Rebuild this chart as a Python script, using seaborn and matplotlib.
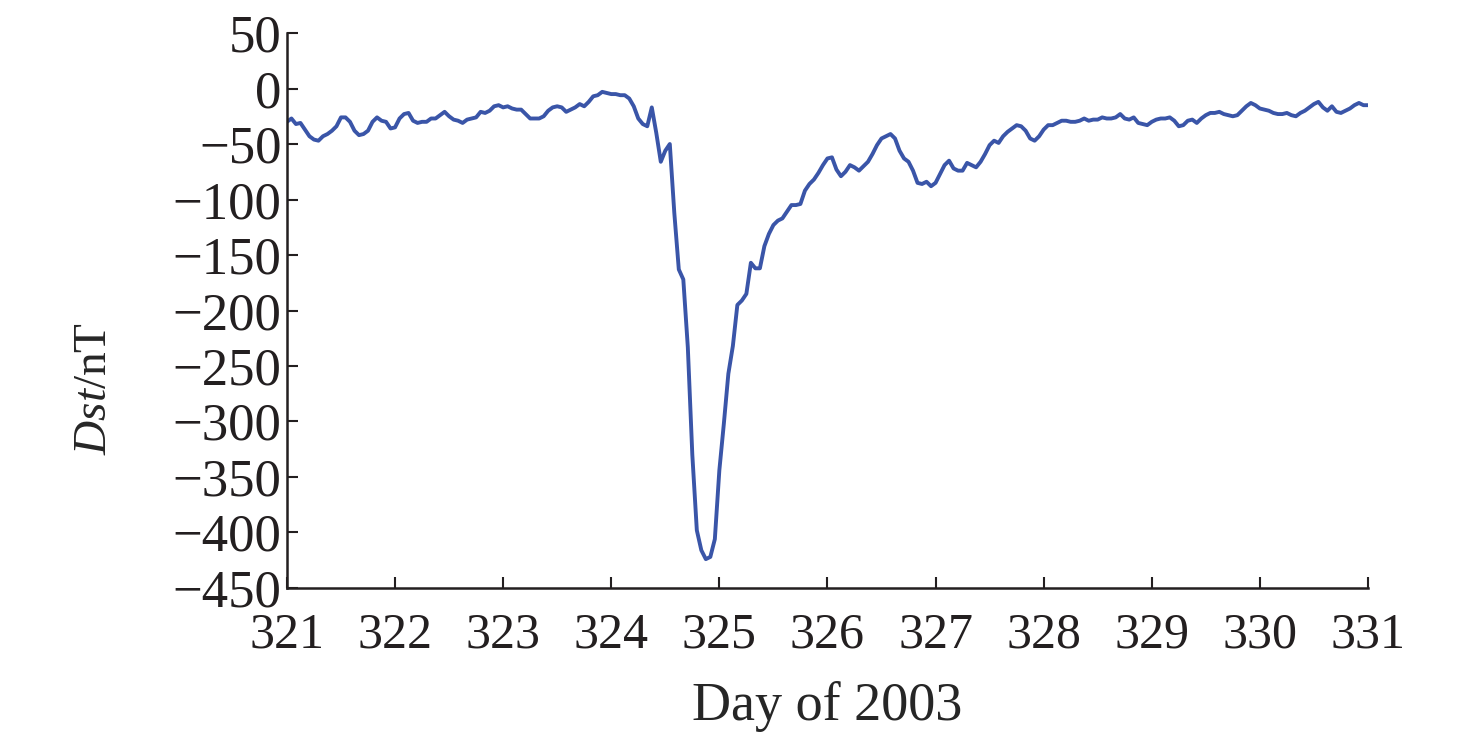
import numpy as np
import pandas as pd
import matplotlib
matplotlib.use("Agg")
import matplotlib.pyplot as plt
import seaborn as sns

# hourly Dst values (nT), day 321 00h .. day 331 00h
dst_321 = [-30, -27, -32, -31, -37, -43, -46, -47, -43, -41, -38, -34,
           -26, -26, -30, -38, -42, -41, -38, -30, -26, -29, -30, -36]
dst_322 = [-35, -27, -23, -22, -29, -31, -30, -30, -27, -27, -24, -21,
           -25, -28, -29, -31, -28, -27, -26, -21, -22, -20, -16, -15]
dst_323 = [-17, -16, -18, -19, -19, -23, -27, -27, -27, -25, -20, -17,
           -16, -17, -21, -19, -17, -14, -16, -12, -7, -6, -3, -4]
dst_324 = [-5, -5, -6, -6, -9, -16, -27, -32, -34, -17, -40, -66,
           -56, -50, -112, -163, -172, -233, -330, -398, -416, -424, -422, -406]
dst_325 = [-344, -302, -257, -232, -195, -191, -185, -157, -162, -162, -142, -131,
           -123, -119, -117, -111, -105, -105, -104, -92, -86, -82, -76, -69]
dst_326 = [-63, -62, -73, -79, -75, -69, -71, -74, -70, -66, -59, -51,
           -45, -43, -41, -45, -56, -63, -66, -74, -85, -86, -84, -88]
dst_327 = [-85, -77, -69, -65, -72, -74, -74, -67, -69, -71, -66, -59,
           -51, -47, -49, -43, -39, -36, -33, -34, -38, -45, -47, -43]
dst_328 = [-37, -33, -33, -31, -29, -29, -30, -30, -29, -27, -29, -28,
           -28, -26, -27, -27, -26, -23, -27, -28, -26, -31, -32, -33]
dst_329 = [-30, -28, -27, -27, -26, -29, -34, -33, -29, -28, -31, -27,
           -24, -22, -22, -21, -23, -24, -25, -24, -20, -16, -13, -15]
dst_330 = [-18, -19, -20, -22, -23, -23, -22, -24, -25, -22, -20, -17,
           -14, -12, -17, -20, -16, -21, -22, -20, -18, -15, -13, -15]
dst_331 = [-15]

dst = dst_321 + dst_322 + dst_323 + dst_324 + dst_325 + dst_326 + dst_327 + dst_328 + dst_329 + dst_330 + dst_331
day = 321 + np.arange(len(dst)) / 24.0
df = pd.DataFrame({"day": day, "dst": dst})

x_ticks = list(range(321, 332))
y_ticks = list(range(-450, 51, 50))

sns.set_style("ticks")
plt.rcParams["font.family"] = ["Liberation Serif", "DejaVu Serif"]
plt.rcParams["mathtext.fontset"] = "custom"
plt.rcParams["mathtext.rm"] = "Liberation Serif"
plt.rcParams["mathtext.it"] = "Liberation Serif:italic"

fig = plt.figure(figsize=(14.76, 7.44), dpi=100)
ax = fig.add_axes([0.1944, 0.2097, 0.7324, 0.7459])
sns.lineplot(data=df, x="day", y="dst", color="#3a55a8", linewidth=2.8, ax=ax)

ax.set_xlim(321, 331)
ax.set_ylim(-450, 50)
ax.set_xticks(x_ticks)
ax.set_yticks(y_ticks)
ax.set_yticklabels([str(v).replace("-", "\u2212") for v in y_ticks])
ax.tick_params(axis="both", direction="in", length=8, width=1.5, colors="#231f20")
ax.tick_params(axis="y", labelsize=38, pad=4)
ax.tick_params(axis="x", labelsize=36, pad=17)
for s in ["top", "right"]:
    ax.spines[s].set_visible(False)
for s in ["left", "bottom"]:
    ax.spines[s].set_linewidth(1.8)
    ax.spines[s].set_color("#231f20")

ax.set_xlabel("Day of 2003", fontsize=39)
ax.xaxis.set_label_coords(0.5, -0.168)
ax.set_ylabel("$\\it{Dst}$/nT", fontsize=34)
ax.yaxis.set_label_coords(-0.158, 0.36)

fig.savefig("out.png", dpi=100)
